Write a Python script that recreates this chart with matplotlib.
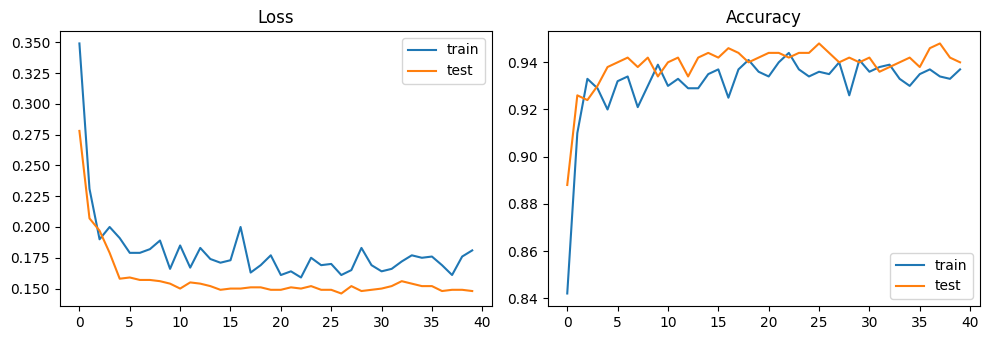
import numpy as np
import matplotlib.pyplot as plt

# Per-epoch training history
epochs = np.arange(40)

train_loss = [0.349, 0.231, 0.190, 0.200, 0.191, 0.179, 0.179, 0.182, 0.189, 0.166,
              0.185, 0.167, 0.183, 0.174, 0.171, 0.173, 0.200, 0.163, 0.169, 0.177,
              0.161, 0.164, 0.159, 0.175, 0.169, 0.170, 0.161, 0.165, 0.183, 0.169,
              0.164, 0.166, 0.172, 0.177, 0.175, 0.176, 0.169, 0.161, 0.176, 0.181]
test_loss = [0.278, 0.207, 0.197, 0.179, 0.158, 0.159, 0.157, 0.157, 0.156, 0.154,
             0.150, 0.155, 0.154, 0.152, 0.149, 0.150, 0.150, 0.151, 0.151, 0.149,
             0.149, 0.151, 0.150, 0.152, 0.149, 0.149, 0.146, 0.152, 0.148, 0.149,
             0.150, 0.152, 0.156, 0.154, 0.152, 0.152, 0.148, 0.149, 0.149, 0.148]

train_acc = [0.842, 0.910, 0.933, 0.929, 0.920, 0.932, 0.934, 0.921, 0.930, 0.939,
             0.930, 0.933, 0.929, 0.929, 0.935, 0.937, 0.925, 0.937, 0.941, 0.936,
             0.934, 0.940, 0.944, 0.937, 0.934, 0.936, 0.935, 0.940, 0.926, 0.941,
             0.936, 0.938, 0.939, 0.933, 0.930, 0.935, 0.937, 0.934, 0.933, 0.937]
test_acc = [0.888, 0.926, 0.924, 0.930, 0.938, 0.940, 0.942, 0.938, 0.942, 0.934,
            0.940, 0.942, 0.934, 0.942, 0.944, 0.942, 0.946, 0.944, 0.940, 0.942,
            0.944, 0.944, 0.942, 0.944, 0.944, 0.948, 0.944, 0.940, 0.942, 0.940,
            0.942, 0.936, 0.938, 0.940, 0.942, 0.938, 0.946, 0.948, 0.942, 0.940]

fig, (ax1, ax2) = plt.subplots(1, 2, figsize=(9.88, 3.4), dpi=100)
fig.subplots_adjust(left=0.0605, right=0.9916, top=0.909, bottom=0.1, wspace=0.129)

# Loss curves
ax1.plot(epochs, train_loss, label='train')
ax1.plot(epochs, test_loss, label='test')
ax1.set_title('Loss')
ax1.legend(loc='upper right')

# Accuracy curves
ax2.plot(epochs, train_acc, label='train')
ax2.plot(epochs, test_acc, label='test')
ax2.set_title('Accuracy')
ax2.legend(loc='lower right')

plt.savefig('out.png')
